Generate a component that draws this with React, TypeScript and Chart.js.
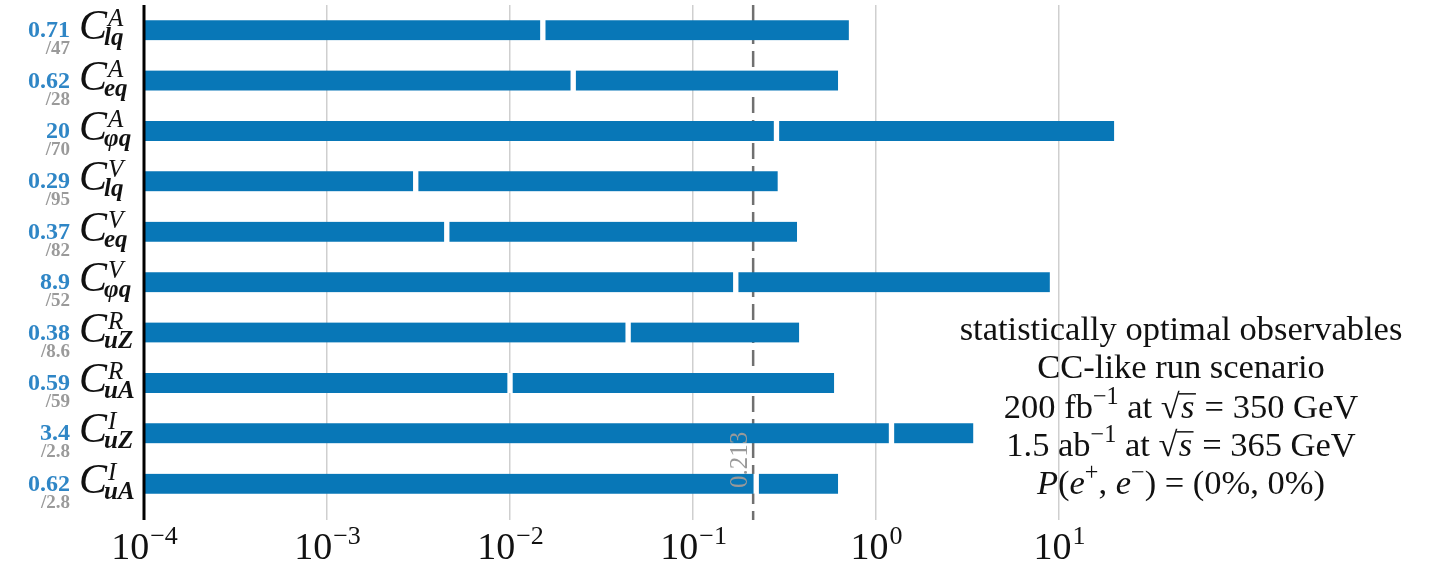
import React, { useEffect, useRef } from 'react';
import { Chart, registerables } from 'chart.js';

Chart.register(...registerables);

// ---------- data ----------
const supLabels = ['A', 'A', 'A', 'V', 'V', 'V', 'R', 'R', 'I', 'I'];
const subLabels = ['lq', 'eq', 'φq', 'lq', 'eq', 'φq', 'uZ', 'uA', 'uZ', 'uA'];
const values = [0.71, 0.62, 20, 0.29, 0.37, 8.9, 0.38, 0.59, 3.4, 0.62];
const valueLabels = ['0.71', '0.62', '20', '0.29', '0.37', '8.9', '0.38', '0.59', '3.4', '0.62'];
const ratios = [47, 28, 70, 95, 82, 52, 8.6, 59, 2.8, 2.8];
const ratioLabels = ['/47', '/28', '/70', '/95', '/82', '/52', '/8.6', '/59', '/2.8', '/2.8'];
const threshold = 0.213;
const thresholdLabel = '0.213';
const tickExponents = [-4, -3, -2, -1, 0, 1];
const xMin = 1e-4;
const xMax = 50;

type Seg = { t: string; i?: boolean; sup?: boolean; sqrt?: boolean };
const noteLines: Seg[][] = [
  [{ t: 'statistically optimal observables' }],
  [{ t: 'CC-like run scenario' }],
  [{ t: '200 fb' }, { t: '−1', sup: true }, { t: ' at ' }, { t: 's', sqrt: true }, { t: ' = 350 GeV' }],
  [{ t: '1.5 ab' }, { t: '−1', sup: true }, { t: ' at ' }, { t: 's', sqrt: true }, { t: ' = 365 GeV' }],
  [
    { t: 'P', i: true }, { t: '(' }, { t: 'e', i: true }, { t: '+', sup: true }, { t: ', ' },
    { t: 'e', i: true }, { t: '−', sup: true }, { t: ') = (0%, 0%)' },
  ],
];

// ---------- styles ----------
const BAR = '#0877b7';
const VALUE_COLOR = '#2f86c6';
const RATIO_COLOR = '#9a9a9a';
const SERIF = '"Liberation Serif", "DejaVu Serif", serif';

const f = (size: number, italic = false, bold = false) =>
  `${italic ? 'italic ' : ''}${bold ? 'bold ' : ''}${size}px ${SERIF}`;

function segWidth(ctx: CanvasRenderingContext2D, s: Seg, size: number) {
  if (s.sqrt) {
    ctx.font = f(size);
    const a = ctx.measureText('√').width;
    ctx.font = f(size, true);
    return a + ctx.measureText(s.t).width + size * 0.08;
  }
  ctx.font = f(s.sup ? size * 0.7 : size, !!s.i);
  return ctx.measureText(s.t).width;
}

function drawRich(ctx: CanvasRenderingContext2D, segs: Seg[], cx: number, y: number, size: number) {
  const total = segs.reduce((acc, s) => acc + segWidth(ctx, s, size), 0);
  let x = cx - total / 2;
  ctx.textAlign = 'left';
  ctx.textBaseline = 'alphabetic';
  for (const s of segs) {
    const w = segWidth(ctx, s, size);
    if (s.sqrt) {
      ctx.font = f(size);
      const a = ctx.measureText('√').width;
      ctx.fillText('√', x, y);
      ctx.font = f(size, true);
      ctx.fillText(s.t, x + a + size * 0.04, y);
      ctx.beginPath();
      ctx.lineWidth = 1.5;
      const oy = y - size * 0.7;
      ctx.moveTo(x + a - 1, oy);
      ctx.lineTo(x + w, oy);
      ctx.stroke();
    } else if (s.sup) {
      ctx.font = f(size * 0.7, !!s.i);
      ctx.fillText(s.t, x, y - size * 0.4);
    } else {
      ctx.font = f(size, !!s.i);
      ctx.fillText(s.t, x, y);
    }
    x += w;
  }
}

const decorPlugin = {
  id: 'decor',
  beforeDatasetsDraw(chart: any) {
    const { ctx, chartArea, scales } = chart;
    const x = scales.x.getPixelForValue(threshold);
    ctx.save();
    ctx.strokeStyle = '#707070';
    ctx.lineWidth = 2.5;
    ctx.setLineDash([16, 7]);
    ctx.beginPath();
    ctx.moveTo(x, chartArea.top);
    ctx.lineTo(x, chartArea.bottom);
    ctx.stroke();
    ctx.restore();
  },
  afterDatasetsDraw(chart: any) {
    const { ctx, chartArea, scales } = chart;
    const xs = scales.x;
    const ys = scales.y;
    ctx.save();

    // left spine
    ctx.strokeStyle = '#000';
    ctx.lineWidth = 3;
    ctx.beginPath();
    ctx.moveTo(chartArea.left, chartArea.top);
    ctx.lineTo(chartArea.left, chartArea.bottom);
    ctx.stroke();

    // row labels
    values.forEach((_, i) => {
      const cy = ys.getPixelForValue(i);
      ctx.textBaseline = 'alphabetic';
      ctx.textAlign = 'right';
      ctx.fillStyle = VALUE_COLOR;
      ctx.font = f(24, false, true);
      ctx.fillText(valueLabels[i], 70, cy + 7);
      ctx.fillStyle = RATIO_COLOR;
      ctx.font = f(19, false, true);
      ctx.fillText(ratioLabels[i], 70, cy + 24);

      ctx.textAlign = 'left';
      ctx.fillStyle = '#111';
      ctx.font = f(42, true);
      const cx0 = 79;
      ctx.fillText('C', cx0, cy + 9);
      const cw = ctx.measureText('C').width;
      ctx.font = f(25, true);
      ctx.fillText(supLabels[i], cx0 + cw + 1, cy - 4);
      ctx.font = f(25, true, true);
      ctx.fillText(subLabels[i], cx0 + cw - 3, cy + 15);
    });

    // x tick labels
    ctx.fillStyle = '#111';
    tickExponents.forEach((e) => {
      const x = xs.getPixelForValue(Math.pow(10, e));
      const base = '10';
      const sup = e < 0 ? '−' + Math.abs(e) : String(e);
      ctx.font = f(38);
      const wb = ctx.measureText(base).width;
      ctx.font = f(26);
      const ws = ctx.measureText(sup).width;
      const start = x - (wb + ws) / 2;
      ctx.textAlign = 'left';
      ctx.font = f(38);
      ctx.fillText(base, start, 559);
      ctx.font = f(26);
      ctx.fillText(sup, start + wb + 1, 544);
    });

    // threshold label (rotated)
    const tx = xs.getPixelForValue(threshold);
    ctx.save();
    ctx.translate(tx - 6, 488);
    ctx.rotate(-Math.PI / 2);
    ctx.fillStyle = '#999';
    ctx.font = f(25);
    ctx.textAlign = 'left';
    ctx.fillText(thresholdLabel, 0, 0);
    ctx.restore();

    // annotation box
    ctx.fillStyle = '#111';
    ctx.strokeStyle = '#111';
    const baselines = [340, 378, 418, 456, 494];
    noteLines.forEach((segs, k) => drawRich(ctx, segs, 1181, baselines[k], 34.5));

    ctx.restore();
  },
};

export default function App() {
  const ref = useRef<HTMLCanvasElement>(null);
  useEffect(() => {
    const common = {
      backgroundColor: BAR,
      borderColor: '#ffffff',
      borderSkipped: false,
      barThickness: 20,
      grouped: false,
    };
    const chart = new Chart(ref.current as HTMLCanvasElement, {
      type: 'bar',
      data: {
        datasets: [
          {
            ...common,
            borderWidth: { left: 0, top: 0, bottom: 0, right: 3 },
            data: values.map((v, i) => ({ x: [xMin, v / ratios[i]], y: i })),
          } as any,
          {
            ...common,
            borderWidth: { left: 3, top: 0, bottom: 0, right: 0 },
            data: values.map((v, i) => ({ x: [v / ratios[i], v], y: i })),
          } as any,
        ],
      },
      options: {
        indexAxis: 'y',
        animation: false,
        responsive: true,
        maintainAspectRatio: false,
        layout: { padding: { left: 144, top: 5, right: 1436 - 1187, bottom: 44 } },
        plugins: { legend: { display: false }, tooltip: { enabled: false } },
        scales: {
          x: {
            type: 'logarithmic',
            min: xMin,
            max: xMax,
            afterBuildTicks: (s: any) => {
              s.ticks = tickExponents.map((e) => ({ value: Math.pow(10, e) }));
            },
            afterFit: (s: any) => {
              s.height = 0;
            },
            ticks: { display: false },
            grid: { color: '#cfcfcf', lineWidth: 1.5, drawTicks: false },
            border: { display: false },
          },
          y: {
            type: 'linear',
            reverse: true,
            offset: false,
            min: -0.5,
            max: 9.72,
            afterFit: (s: any) => {
              s.width = 0;
            },
            ticks: { display: false },
            grid: { display: false, offset: false },
            border: { display: false },
          },
        },
      } as any,
      plugins: [decorPlugin],
    });
    return () => chart.destroy();
  }, []);
  return (
    <div style={{ position: 'fixed', left: 0, top: 0, width: 1436, height: 564, background: '#fff' }}>
      <canvas ref={ref} />
    </div>
  );
}
